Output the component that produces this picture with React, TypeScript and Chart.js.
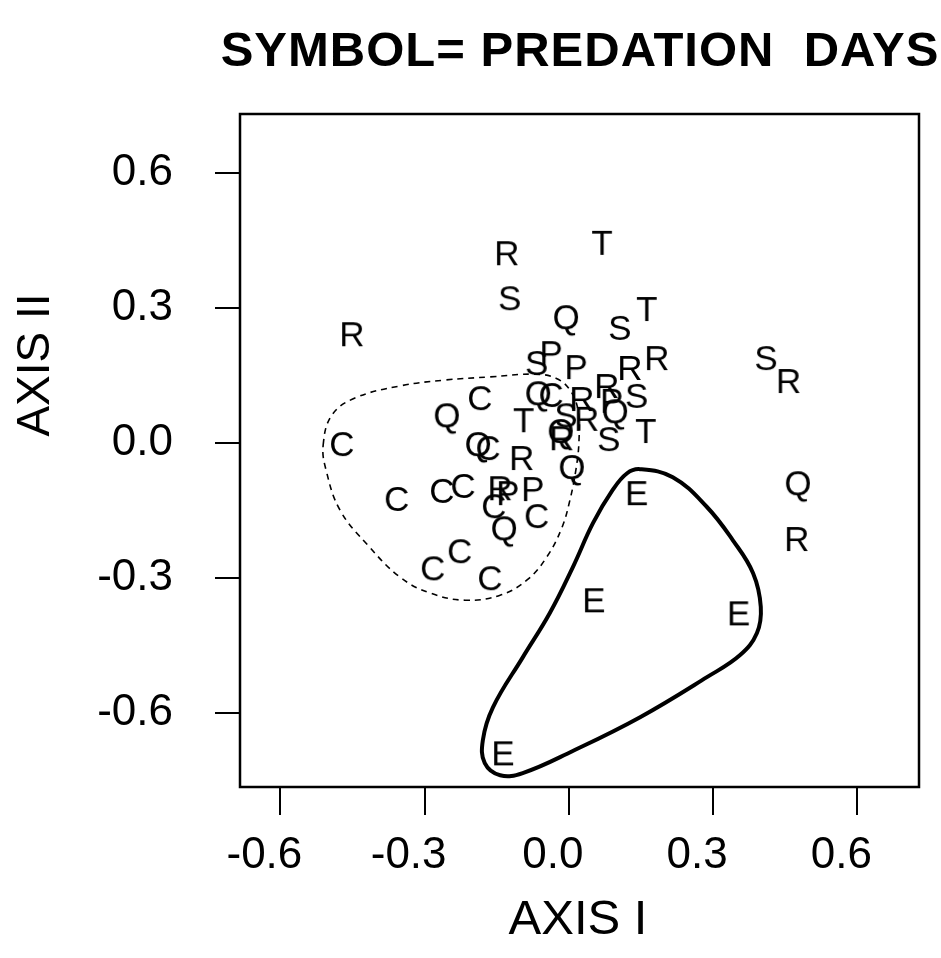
import React, { useEffect, useRef } from "react";
import { Chart, registerables } from "chart.js";

Chart.register(...registerables);

const FONT = '"Liberation Sans", Arial, Helvetica, sans-serif';

const TITLE = "SYMBOL= PREDATION  DAYS";
const X_TITLE = "AXIS I";
const Y_TITLE = "AXIS II";

const X_TICKS = [-0.6, -0.3, 0, 0.3, 0.6];
const Y_TICKS = [-0.6, -0.3, 0, 0.3, 0.6];
const X_MIN = -0.684;
const X_MAX = 0.728;
const Y_MIN = -0.764;
const Y_MAX = 0.731;

// Symbol letters and their (Axis I, Axis II) scores
const C_POINTS = [
  [-0.185, 0.102], [-0.037, 0.109], [-0.472, 0.0], [-0.168, -0.009],
  [-0.358, -0.122], [-0.264, -0.104], [-0.22, -0.093], [-0.156, -0.138],
  [-0.067, -0.16], [-0.283, -0.276], [-0.227, -0.238], [-0.164, -0.298],
];
const E_POINTS = [
  [0.141, -0.109], [0.052, -0.347], [0.353, -0.376], [-0.137, -0.687],
];
const P_POINTS = [
  [-0.037, 0.202], [0.015, 0.171], [0.089, 0.096], [-0.075, -0.1], [-0.127, -0.109],
];
const Q_POINTS = [
  [-0.006, 0.282], [-0.064, 0.113], [-0.254, 0.064], [-0.189, 0.0],
  [-0.017, 0.029], [0.006, -0.051], [0.096, 0.073], [0.476, -0.087], [-0.135, -0.187],
];
const R_POINTS = [
  [-0.129, 0.424], [-0.451, 0.244], [0.127, 0.169], [0.183, 0.191],
  [0.457, 0.14], [0.474, -0.211], [0.027, 0.1], [0.079, 0.129],
  [0.037, 0.056], [-0.015, 0.013], [-0.098, -0.031], [-0.143, -0.098],
];
const S_POINTS = [
  [-0.123, 0.324], [0.106, 0.258], [-0.067, 0.18], [0.41, 0.191],
  [0.141, 0.107], [-0.006, 0.064], [0.083, 0.011],
];
const T_POINTS = [
  [0.069, 0.447], [0.162, 0.3], [-0.094, 0.053], [0.16, 0.029],
];

// Hand-drawn enclosing contours (closed)
const DASHED_CONTOUR = [
  [-0.511, -0.004], [-0.493, 0.062], [-0.445, 0.1], [-0.351, 0.127], [-0.258, 0.14],
  [-0.164, 0.147], [-0.071, 0.153], [-0.027, 0.144], [0.002, 0.118], [0.019, 0.073],
  [0.021, 0.007], [0.015, -0.056], [0.002, -0.127], [-0.015, -0.189], [-0.046, -0.253],
  [-0.087, -0.304], [-0.143, -0.338], [-0.216, -0.349], [-0.289, -0.333], [-0.351, -0.298],
  [-0.418, -0.227], [-0.476, -0.149], [-0.505, -0.06],
];
const SOLID_CONTOUR = [
  [0.148, -0.058], [0.216, -0.076], [0.287, -0.142], [0.341, -0.216], [0.383, -0.289],
  [0.399, -0.364], [0.391, -0.422], [0.356, -0.471], [0.287, -0.52], [0.148, -0.609],
  [0.008, -0.684], [-0.096, -0.733], [-0.143, -0.738], [-0.175, -0.711], [-0.179, -0.66],
  [-0.158, -0.587], [-0.096, -0.476], [-0.04, -0.378], [0.008, -0.276], [0.05, -0.178],
  [0.091, -0.104], [0.121, -0.067],
];

const LETTER_GROUPS: [string, number[][]][] = [
  ["C", C_POINTS], ["E", E_POINTS], ["P", P_POINTS], ["Q", Q_POINTS],
  ["R", R_POINTS], ["S", S_POINTS], ["T", T_POINTS],
];

function letterCanvas(ch: string) {
  const size = 35;
  const c = document.createElement("canvas");
  c.width = 50;
  c.height = 50;
  const ctx = c.getContext("2d")!;
  ctx.font = `${size}px ${FONT}`;
  ctx.fillStyle = "#000";
  ctx.textAlign = "center";
  ctx.textBaseline = "alphabetic";
  ctx.fillText(ch, 25, 25 + (size * 0.716) / 2);
  return c;
}

const toXY = (arr: number[][]) => arr.map(([x, y]) => ({ x, y }));
const fmt = (v: number) => (Math.abs(v) < 1e-9 ? 0 : v).toFixed(1);

const loopPlugin = {
  id: "loopPlugin",
  afterDatasetUpdate(chart: any, args: any) {
    const ds = chart.data.datasets[args.index];
    if (ds && ds.closedLoop && args.meta.dataset) {
      args.meta.dataset._loop = true;
      args.meta.dataset._fullLoop = true;
    }
  },
};

const decorPlugin = {
  id: "decor",
  afterDraw(chart: any) {
    const ctx = chart.ctx;
    const a = chart.chartArea;
    ctx.save();
    ctx.strokeStyle = "#000";
    ctx.lineWidth = 2.5;
    ctx.strokeRect(a.left, a.top, a.right - a.left, a.bottom - a.top);

    ctx.fillStyle = "#000";
    ctx.textAlign = "center";
    ctx.textBaseline = "alphabetic";
    ctx.font = `bold 49px ${FONT}`;
    try {
      (ctx as any).letterSpacing = "1px";
    } catch (e) {}
    ctx.fillText(TITLE, 580, 48 + (49 * 0.716) / 2);
    try {
      (ctx as any).letterSpacing = "0px";
    } catch (e) {}

    ctx.font = `49px ${FONT}`;
    ctx.fillText(X_TITLE, 578, 916 + (49 * 0.716) / 2);

    ctx.translate(33, 365);
    ctx.rotate(-Math.PI / 2);
    ctx.font = `46px ${FONT}`;
    ctx.fillText(Y_TITLE, 0, (46 * 0.716) / 2);
    ctx.restore();
  },
};

export default function App() {
  const ref = useRef<HTMLCanvasElement | null>(null);

  useEffect(() => {
    if (!ref.current) return;
    const letterSets = LETTER_GROUPS.map(([ch, pts]) => ({
      label: ch,
      data: toXY(pts),
      pointStyle: letterCanvas(ch),
      pointRadius: 6,
      pointHoverRadius: 6,
      showLine: false,
    }));
    const chart = new Chart(ref.current, {
      type: "scatter",
      data: {
        datasets: [
          {
            label: "dashed",
            data: toXY(DASHED_CONTOUR),
            showLine: true,
            closedLoop: true,
            borderColor: "#000",
            borderWidth: 1.6,
            borderDash: [6, 5],
            tension: 0.4,
            pointRadius: 0,
            fill: false,
          } as any,
          {
            label: "solid",
            data: toXY(SOLID_CONTOUR),
            showLine: true,
            closedLoop: true,
            borderColor: "#000",
            borderWidth: 4,
            tension: 0.4,
            pointRadius: 0,
            fill: false,
          } as any,
          ...letterSets,
        ],
      },
      options: {
        animation: false,
        responsive: false,
        events: [],
        layout: { padding: { top: 114, right: 22, left: 0, bottom: 0 } },
        plugins: {
          legend: { display: false },
          tooltip: { enabled: false },
          title: { display: false },
        },
        scales: {
          x: {
            type: "linear",
            min: X_MIN,
            max: X_MAX,
            afterBuildTicks: (s: any) => {
              s.ticks = X_TICKS.map((v) => ({ value: v }));
            },
            afterFit: (s: any) => {
              s.height = 171;
            },
            border: { display: false },
            grid: {
              drawOnChartArea: false,
              drawTicks: true,
              tickLength: 28,
              color: "#000",
              lineWidth: 2,
            },
            ticks: {
              color: "#000",
              font: { family: FONT, size: 44 },
              padding: 14,
              labelOffset: -16,
              maxRotation: 0,
              autoSkip: false,
              callback: (v: any) => fmt(Number(v)),
            },
          },
          y: {
            type: "linear",
            min: Y_MIN,
            max: Y_MAX,
            afterBuildTicks: (s: any) => {
              s.ticks = Y_TICKS.map((v) => ({ value: v }));
            },
            afterFit: (s: any) => {
              s.width = 240;
            },
            border: { display: false },
            grid: {
              drawOnChartArea: false,
              drawTicks: true,
              tickLength: 25,
              color: "#000",
              lineWidth: 2,
            },
            ticks: {
              color: "#000",
              font: { family: FONT, size: 44 },
              padding: 42,
              autoSkip: false,
              callback: (v: any) => fmt(Number(v)),
            },
          },
        },
      } as any,
      plugins: [loopPlugin, decorPlugin],
    });
    return () => chart.destroy();
  }, []);

  return (
    <div style={{ position: "absolute", left: 0, top: 0, width: 941, height: 958, background: "#fff" }}>
      <canvas ref={ref} width={941} height={958} style={{ display: "block" }} />
    </div>
  );
}
